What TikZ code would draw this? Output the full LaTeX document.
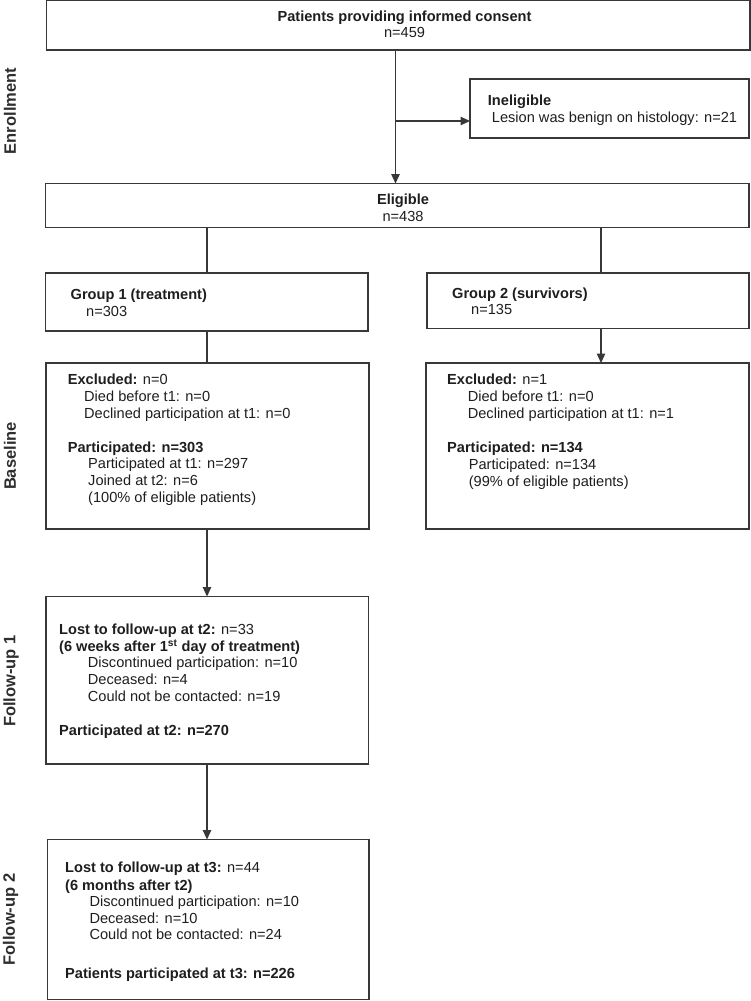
\documentclass[tikz,border=0pt]{standalone}
\usepackage{fontspec}
\setmainfont{Liberation Sans}
\usetikzlibrary{arrows.meta}
\definecolor{ln}{HTML}{383838}
\definecolor{tx}{HTML}{1E1E1E}
\definecolor{lb}{HTML}{2E2E2E}
\begin{document}
\begin{tikzpicture}[x=1pt,y=-1pt,
  box/.style={draw=ln,line width=1.2pt,anchor=north west,inner sep=0,outer sep=0},
  txt/.style={anchor=base west,inner sep=0,text=tx,font=\fontsize{14.6pt}{17pt}\selectfont},
  ctxt/.style={anchor=base,inner sep=0,text=tx,font=\fontsize{14.6pt}{17pt}\selectfont},
  side/.style={rotate=90,inner sep=0,text=lb,font=\fontsize{16.5pt}{18pt}\selectfont\bfseries},
  conn/.style={draw=ln,line width=1.2pt},
  arr/.style={conn,-{Triangle[width=8.5pt,length=9.5pt]}}]
\useasboundingbox (0,0) rectangle (751,1001);
% boxes
\node[box,minimum width=703.5pt,minimum height=49.3pt] (top) at (46.5,0.7) {};
\node[box,minimum width=279pt,minimum height=59pt] (inel) at (470,79) {};
\node[box,minimum width=703.5pt,minimum height=44pt] (elig) at (45.5,183.5) {};
\node[box,minimum width=322.5pt,minimum height=58pt] (g1) at (45.5,273) {};
\node[box,minimum width=322pt,minimum height=55.5pt] (g2) at (427,273) {};
\node[box,minimum width=323pt,minimum height=166pt] (b1) at (46,363) {};
\node[box,minimum width=323pt,minimum height=166pt] (b2) at (426,363) {};
\node[box,minimum width=322.5pt,minimum height=167.5pt] (f1) at (46,596.5) {};
\node[box,minimum width=321.5pt,minimum height=160pt] (f2) at (47.5,839.5) {};
% connector coordinates
\coordinate (cx) at (395.5,0);
\coordinate (br) at (470,121);
\coordinate (lx) at (207,0);
\coordinate (rx) at (601,0);
% connectors
\draw[arr] (top.south -| cx) -- (elig.north -| cx);
\draw[arr] (br -| cx) -- (br);
\draw[conn] (elig.south -| lx) -- (g1.north -| lx);
\draw[conn] (elig.south -| rx) -- (g2.north -| rx);
\draw[conn] (g1.south -| lx) -- (b1.north -| lx);
\draw[arr] (g2.south -| rx) -- (b2.north -| rx);
\draw[arr] (b1.south -| lx) -- (f1.north -| lx);
\draw[arr] (f1.south -| lx) -- (f2.north -| lx);
% texts: top
\node[ctxt] (t1) at (404.5,21.5) {\textbf{Patients providing informed consent}};
\node[ctxt] (t2) at (404.5,37.5) {n=459};
\node[txt] (i1) at (487.7,105) {\textbf{Ineligible}};
\node[txt] (i2) at (491.7,122) {Lesion was benign on histology: n=21};
\node[ctxt] (e1) at (403,204.7) {\textbf{Eligible}};
\node[ctxt] (e2) at (403,221.7) {n=438};
% groups
\node[txt] (ga1) at (70.5,299) {\textbf{Group 1 (treatment)}};
\node[txt] (ga2) at (86,316) {n=303};
\node[txt] (gb1) at (452,298) {\textbf{Group 2 (survivors)}};
\node[txt] (gb2) at (471,314) {n=135};
% baseline 1
\node[txt] (ba1) at (67.6,384) {\textbf{Excluded:} n=0};
\node[txt] (ba2) at (84,401) {Died before t1: n=0};
\node[txt] (ba3) at (84,418) {Declined participation at t1: n=0};
\node[txt] (ba4) at (67.6,452) {\textbf{Participated: n=303}};
\node[txt] (ba5) at (88,468) {Participated at t1: n=297};
\node[txt] (ba6) at (88,485) {Joined at t2: n=6};
\node[txt] (ba7) at (88,502) {(100\% of eligible patients)};
% baseline 2
\node[txt] (bb1) at (447,384) {\textbf{Excluded:} n=1};
\node[txt] (bb2) at (467.6,401) {Died before t1: n=0};
\node[txt] (bb3) at (467.6,418) {Declined participation at t1: n=1};
\node[txt] (bb4) at (447,452) {\textbf{Participated: n=134}};
\node[txt] (bb5) at (468.6,469) {Participated: n=134};
\node[txt] (bb6) at (468.6,486) {(99\% of eligible patients)};
% follow-up 1
\node[txt] (fa1) at (59,634) {\textbf{Lost to follow-up at t2:} n=33};
\node[txt] (fa2) at (59,651.5) {\textbf{(6 weeks after 1\textsuperscript{st} day of treatment)}};
\node[txt] (fa3) at (87.7,667.5) {Discontinued participation: n=10};
\node[txt] (fa4) at (87.7,684) {Deceased: n=4};
\node[txt] (fa5) at (87.7,701) {Could not be contacted: n=19};
\node[txt] (fa6) at (59,735) {\textbf{Participated at t2: n=270}};
% follow-up 2
\node[txt] (fb1) at (65,872) {\textbf{Lost to follow-up at t3:} n=44};
\node[txt] (fb2) at (65,890) {\textbf{(6 months after t2)}};
\node[txt] (fb3) at (89.3,906.5) {Discontinued participation: n=10};
\node[txt] (fb4) at (89.3,923) {Deceased: n=10};
\node[txt] (fb5) at (89.3,939) {Could not be contacted: n=24};
\node[txt] (fb6) at (65,978) {\textbf{Patients participated at t3: n=226}};
% side labels
\node[side] (s1) at (10,111) {Enrollment};
\node[side] (s2) at (10,456) {Baseline};
\node[side] (s3) at (11,681) {Follow-up 1};
\node[side] (s4) at (10.5,919.5) {Follow-up 2};
\end{tikzpicture}
\end{document}
